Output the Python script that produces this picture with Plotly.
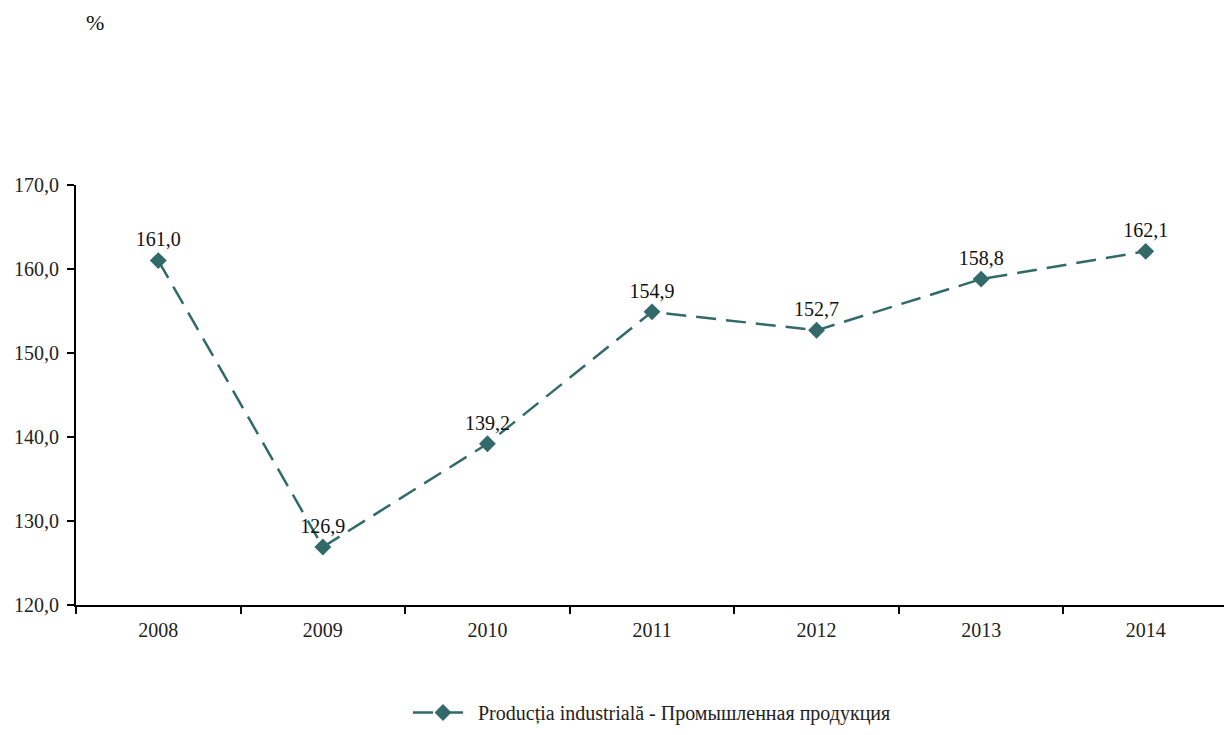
import plotly.graph_objects as go

years = ["2008", "2009", "2010", "2011", "2012", "2013", "2014"]
values = [161.0, 126.9, 139.2, 154.9, 152.7, 158.8, 162.1]
labels = ["161,0", "126,9", "139,2", "154,9", "152,7", "158,8", "162,1"]
series_name = "Producția industrială - Промышленная продукция"

color = "#326A6A"
font_family = "Liberation Serif, Times New Roman, serif"

W, H = 1224, 727
L, R, T, B = 68, 4, 177, 129
PH = H - T - B  # plot height

fig = go.Figure()
fig.add_trace(go.Scatter(
    x=years, y=values, mode="lines+markers+text",
    name=series_name,
    line=dict(color=color, width=2.5, dash="20px,10px"),
    marker=dict(symbol="diamond", size=13, color=color),
    text=labels, textposition="top center",
    textfont=dict(family=font_family, size=20, color="#111111"),
    cliponaxis=False,
))

fig.update_layout(
    width=W, height=H,
    margin=dict(l=L, r=R, t=T, b=B),
    paper_bgcolor="white", plot_bgcolor="white",
    separators=", ",
    font=dict(family=font_family, size=20, color="#222222"),
    showlegend=True,
    legend=dict(orientation="h", x=0.5, xanchor="center", y=-(724 - (H - B)) / PH, yanchor="bottom",
                itemwidth=60,
                font=dict(family=font_family, size=20, color="#222222")),
    annotations=[dict(text="%", showarrow=False, xref="paper", yref="paper",
                      xanchor="center", yanchor="top",
                      x=(95 - 76) / 1152, y=1 + T / PH,
                      font=dict(family=font_family, size=22, color="#111111"))],
)

fig.update_xaxes(
    type="category", tickson="boundaries", ticks="outside", ticklen=7,
    tickcolor="black", tickwidth=2, showline=True, linecolor="black", linewidth=2,
    showgrid=False, tickfont=dict(family=font_family, size=20, color="#222222"),
    ticklabelstandoff=6,
    range=[-0.5, 6.5],
)
fig.update_yaxes(
    range=[120, 170], dtick=10, tickformat=".1f", ticks="outside", ticklen=7,
    tickcolor="black", tickwidth=2, showline=True, linecolor="black", linewidth=2,
    showgrid=False, zeroline=False, tickfont=dict(family=font_family, size=20, color="#222222"),
    ticklabelstandoff=4,
)

fig.write_html("out.html")
